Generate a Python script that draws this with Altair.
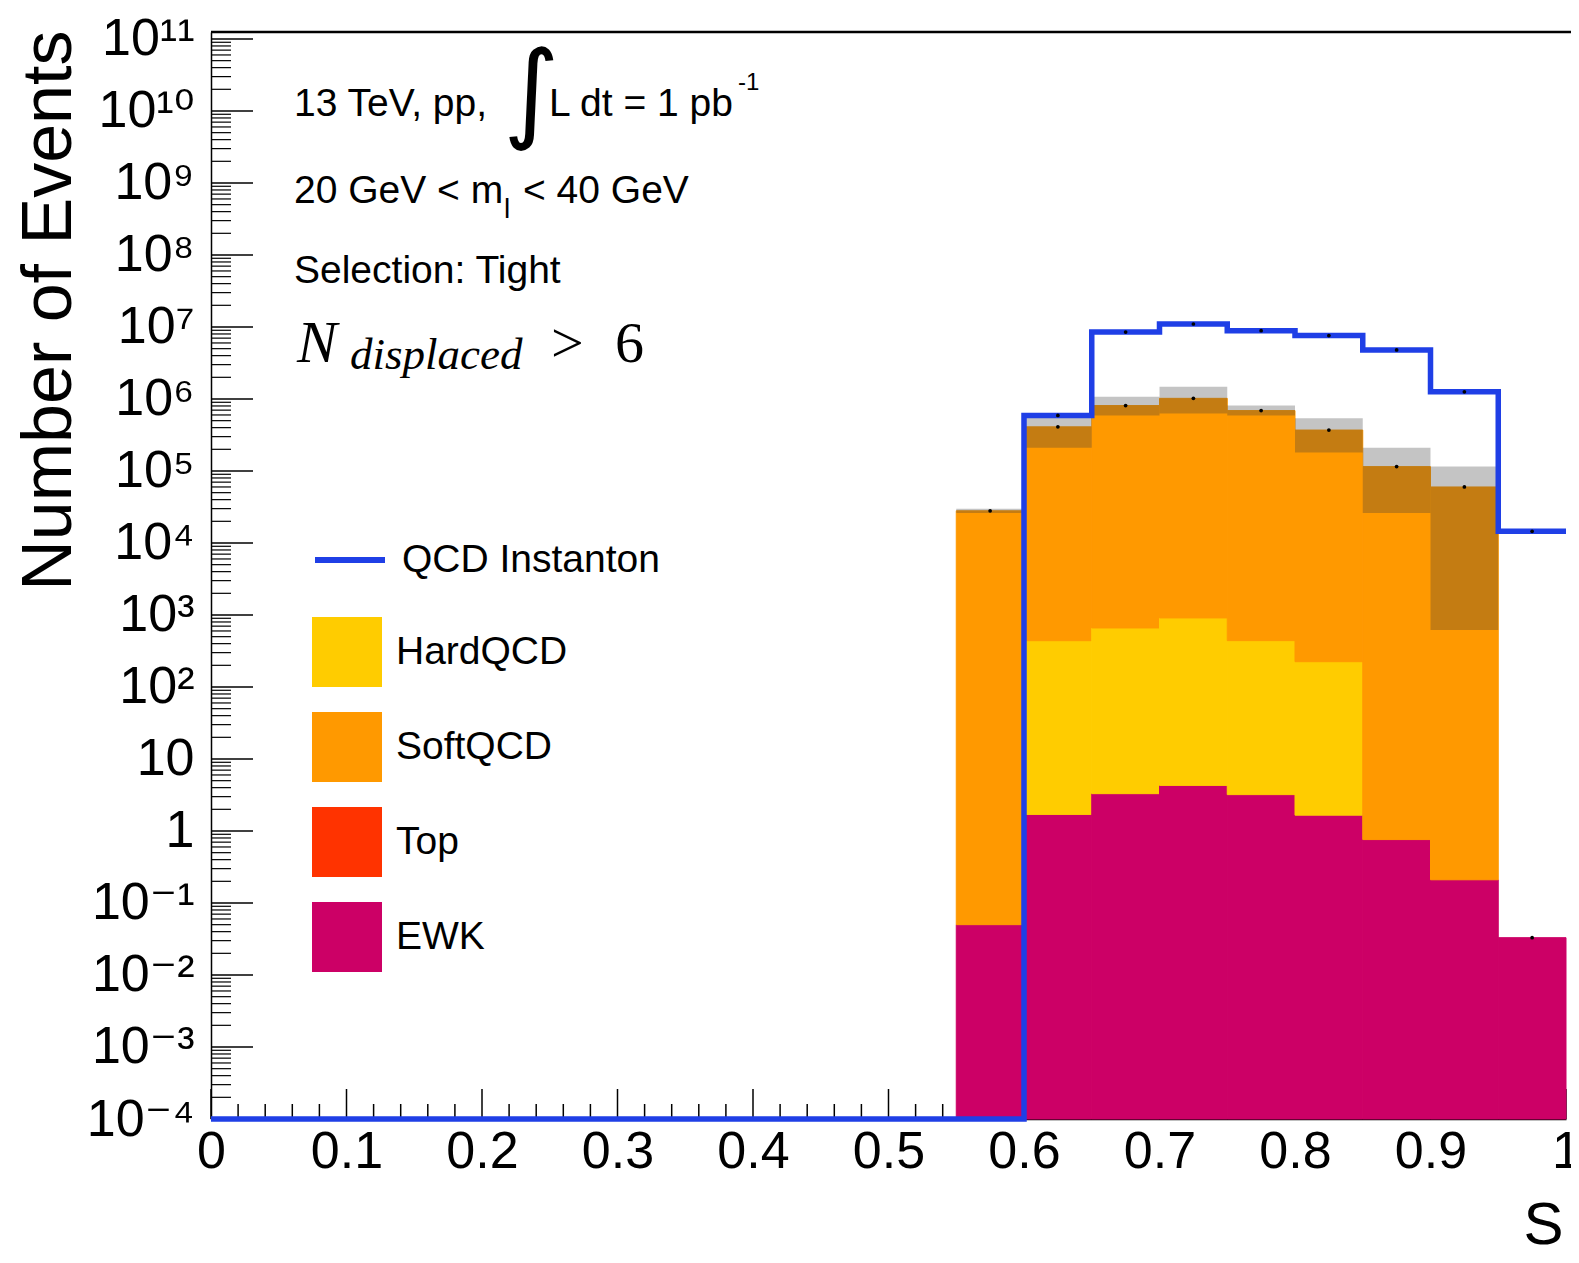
import altair as alt
import pandas as pd

# ---------------- data ----------------
bin_lo = [0.00, 0.05, 0.10, 0.15, 0.20, 0.25, 0.30, 0.35, 0.40, 0.45,
          0.50, 0.55, 0.60, 0.65, 0.70, 0.75, 0.80, 0.85, 0.90, 0.95]
bin_hi = [0.05, 0.10, 0.15, 0.20, 0.25, 0.30, 0.35, 0.40, 0.45, 0.50,
          0.55, 0.60, 0.65, 0.70, 0.75, 0.80, 0.85, 0.90, 0.95, 1.00]

top_vals = [0] * 20
ewk_vals = [0] * 11 + [0.050, 1.7, 3.3, 4.3, 3.2, 1.66, 0.76, 0.21, 0.033]
hard_vals = [0] * 11 + [0, 438, 657, 906, 437, 223, 0, 0, 0]
soft_vals = [0] * 11 + [2.8e4, 4.1e5, 8.1e5, 1.02e6, 6.9e5, 3.7e5, 1.15e5, 6.0e4, 0]
err_lo = [0] * 11 + [2.6e4, 2.1e5, 5.9e5, 6.3e5, 5.9e5, 1.8e5, 2.6e4, 620, 0]
err_hi = [0] * 11 + [3.0e4, 5.9e5, 1.07e6, 1.48e6, 8.1e5, 5.4e5, 2.1e5, 1.15e5, 0]
instanton = [0] * 12 + [5.9e5, 8.5e6, 1.1e7, 8.9e6, 7.6e6, 4.8e6, 1.26e6, 1.45e4]

components = ["Top", "EWK", "HardQCD", "SoftQCD"]          # stacking order, bottom first
comp_values = [top_vals, ewk_vals, hard_vals, soft_vals]
legend_order = ["HardQCD", "SoftQCD", "Top", "EWK"]
legend_colors = ["#ffcc00", "#ff9900", "#ff3300", "#cc0066"]
BLUE = "#1f3fe6"

x_major = [0, 0.1, 0.2, 0.3, 0.4, 0.5, 0.6, 0.7, 0.8, 0.9, 1]
x_minor = [0.02, 0.04, 0.06, 0.08, 0.12, 0.14, 0.16, 0.18, 0.22, 0.24, 0.26, 0.28,
           0.32, 0.34, 0.36, 0.38, 0.42, 0.44, 0.46, 0.48, 0.52, 0.54, 0.56, 0.58,
           0.62, 0.64, 0.66, 0.68, 0.72, 0.74, 0.76, 0.78, 0.82, 0.84, 0.86, 0.88,
           0.92, 0.94, 0.96, 0.98]
y_exps = list(range(-4, 12))
y_labels = ["10⁻⁴", "10⁻³", "10⁻²", "10⁻¹", "1", "10", "10²", "10³", "10⁴", "10⁵",
            "10⁶", "10⁷", "10⁸", "10⁹", "10¹⁰", "10¹¹"]

YMIN, YMAX = 1e-4, 1.25e11
W, H = 1355, 1087
SANS = "Liberation Sans, Arial, DejaVu Sans"
NARROW = "Liberation Sans Narrow, Liberation Sans, DejaVu Sans"
SERIF = "Liberation Serif, DejaVu Serif"

# ---------------- tables ----------------
color_of = dict(zip(legend_order, legend_colors))
rows = []
for i in range(20):
    cum = 0.0
    for name, vals in zip(components, comp_values):
        v = vals[i]
        if v <= 0:
            continue
        lo = max(cum, YMIN)
        cum += v
        rows.append({"lo": bin_lo[i], "hi": bin_hi[i], "y0": lo, "y1": cum,
                     "comp": name, "col": color_of[name]})
bars = pd.DataFrame(rows)

band = pd.DataFrame([{"lo": bin_lo[i], "hi": bin_hi[i], "e0": err_lo[i], "e1": err_hi[i]}
                     for i in range(20) if err_hi[i] > 0])

tot = [sum(vals[i] for vals in comp_values) for i in range(20)]
dots = pd.DataFrame([{"xc": (bin_lo[i] + bin_hi[i]) / 2, "v": tot[i]} for i in range(20) if tot[i] > 0] +
                    [{"xc": (bin_lo[i] + bin_hi[i]) / 2, "v": instanton[i]} for i in range(20) if instanton[i] > 0])

line_pts = [{"x": bin_lo[i], "v": max(instanton[i], YMIN), "series": "QCD Instanton"} for i in range(20)]
line_pts.append({"x": 1.0, "v": max(instanton[-1], YMIN), "series": "QCD Instanton"})
line_df = pd.DataFrame(line_pts)

yticks_major = pd.DataFrame({"v": [10.0 ** e for e in y_exps]})
yticks_minor = pd.DataFrame({"v": [m * 10.0 ** e for e in range(-4, 11) for m in range(2, 10)]})
xticks_major = pd.DataFrame({"v": x_major})
xticks_minor = pd.DataFrame({"v": x_minor})

xscale = alt.Scale(domain=[0, 1], nice=False, zero=False)
yscale = alt.Scale(type="log", domain=[YMIN, YMAX], nice=False, clamp=True)

label_expr = ""
for e, lab in zip(y_exps, y_labels):
    label_expr += f"datum.value < {10.0 ** e * 3:.6g} ? '{lab}' : "
label_expr += "''"

XAXIS = alt.Axis(values=x_major, ticks=False, labelFont=NARROW, labelFontSize=52,
                 labelColor="black", labelPadding=7, domainColor="black", domainWidth=1.5,
                 grid=False, labelFlush=False, labelOverlap=False,
                 labelExpr="datum.value == 0 ? '0' : datum.value == 1 ? '1' : format(datum.value, '.1f')",
                 title="S", titleFont=SANS, titleFontSize=60, titleFontWeight="normal",
                 titleColor="black", titleAnchor="end", titleAlign="right",
                 titleBaseline="alphabetic", titleX=W - 3, titleY=124)
YAXIS = alt.Axis(values=[10.0 ** e for e in y_exps], ticks=False, labelFont=NARROW,
                 labelFontSize=52, labelColor="black", labelPadding=17,
                 labelExpr=label_expr, labelOverlap=False, labelFlush=False,
                 domainColor="black", domainWidth=1.5, grid=False,
                 title="Number of Events", titleFont=SANS, titleFontSize=70,
                 titleFontWeight="normal", titleColor="black", titleAngle=-90,
                 titleAlign="right", titleBaseline="alphabetic",
                 titleX=-141, titleY=-2)

# ---------------- layers ----------------
xt_major = alt.Chart(xticks_major).mark_rule(color="black", strokeWidth=1.5).encode(
    x=alt.X("v:Q", scale=xscale, axis=XAXIS), y=alt.value(H), y2=alt.value(H - 30))
xt_minor = alt.Chart(xticks_minor).mark_rule(color="black", strokeWidth=1.5).encode(
    x=alt.X("v:Q", scale=xscale, axis=XAXIS), y=alt.value(H), y2=alt.value(H - 15))
yt_major = alt.Chart(yticks_major).mark_rule(color="black", strokeWidth=1.5).encode(
    y=alt.Y("v:Q", scale=yscale, axis=YAXIS), x=alt.value(0), x2=alt.value(42))
yt_minor = alt.Chart(yticks_minor).mark_rule(color="black", strokeWidth=1.2).encode(
    y=alt.Y("v:Q", scale=yscale, axis=YAXIS), x=alt.value(0), x2=alt.value(20))

rects = alt.Chart(bars).mark_rect(strokeWidth=1).encode(
    x=alt.X("lo:Q", scale=xscale, axis=XAXIS),
    x2="hi:Q",
    y=alt.Y("y0:Q", scale=yscale, axis=YAXIS),
    y2="y1:Q",
    stroke=alt.Stroke("col:N", scale=None, legend=None),
    fill=alt.Fill("comp:N", scale=alt.Scale(domain=legend_order, range=legend_colors),
                  legend=alt.Legend(orient="none", legendX=101, legendY=585, title=None,
                                    symbolType="square", symbolSize=4900, symbolStrokeWidth=0,
                                    labelFont=SANS, labelFontSize=39, labelColor="black",
                                    labelLimit=500, labelOffset=14, rowPadding=25, padding=0)),
)

hatch = alt.Chart(band).mark_rect(fill="#3a3a3a", opacity=0.3, strokeWidth=0).encode(
    x=alt.X("lo:Q", scale=xscale, axis=XAXIS), x2="hi:Q",
    y=alt.Y("e0:Q", scale=yscale, axis=YAXIS), y2="e1:Q")

line = alt.Chart(line_df).mark_line(interpolate="step-after", strokeWidth=5.5).encode(
    x=alt.X("x:Q", scale=xscale, axis=XAXIS),
    y=alt.Y("v:Q", scale=yscale, axis=YAXIS),
    color=alt.Color("series:N", scale=alt.Scale(domain=["QCD Instanton"], range=[BLUE]),
                    legend=alt.Legend(orient="none", legendX=101, legendY=490, title=None,
                                      symbolType="stroke", symbolSize=4900, symbolStrokeWidth=6,
                                      labelFont=SANS, labelFontSize=39, labelColor="black",
                                      labelLimit=500, labelOffset=14, padding=0)),
)

pts = alt.Chart(dots).mark_point(filled=True, color="black", size=14, opacity=1).encode(
    x=alt.X("xc:Q", scale=xscale, axis=XAXIS), y=alt.Y("v:Q", scale=yscale, axis=YAXIS))

frame_top = alt.Chart(pd.DataFrame({"a": [0]})).mark_rule(color="black", strokeWidth=2.5).encode(
    x=alt.value(0), x2=alt.value(W + 10), y=alt.value(0))


def txt(s, x, y, size, font=SANS, style="normal"):
    return alt.Chart(pd.DataFrame({"t": [s]})).mark_text(
        align="left", baseline="alphabetic", font=font, fontSize=size, fontStyle=style,
        color="black").encode(text="t:N", x=alt.value(x), y=alt.value(y))


texts = [
    txt("13 TeV, pp,", 83, 84, 39),
    txt("∫", 292, 96, 108, font="DejaVu Sans"),
    txt("L dt = 1 pb", 338, 84, 39),
    txt("-1", 527, 58, 24),
    txt("20 GeV < m", 83, 171, 39),
    txt("l", 293, 186, 28),
    txt("< 40 GeV", 312, 171, 39),
    txt("Selection: Tight", 83, 251, 39),
    txt("N", 86, 330, 60, font=SERIF, style="italic"),
    txt("displaced", 139, 337, 45, font=SERIF, style="italic"),
    txt(">", 340, 330, 58, font=SERIF),
    txt("6", 404, 330, 58, font=SERIF),
]

chart = alt.layer(xt_major, xt_minor, yt_major, yt_minor, rects, hatch, line, pts, frame_top, *texts).properties(
    width=W, height=H,
    padding={"left": 203, "top": 24, "right": 5, "bottom": 136},
    autosize=alt.AutoSizeParams(type="none"),
    background="white",
).configure_view(stroke=None)

chart.save("out.html", embed_options={"renderer": "svg", "actions": False})
